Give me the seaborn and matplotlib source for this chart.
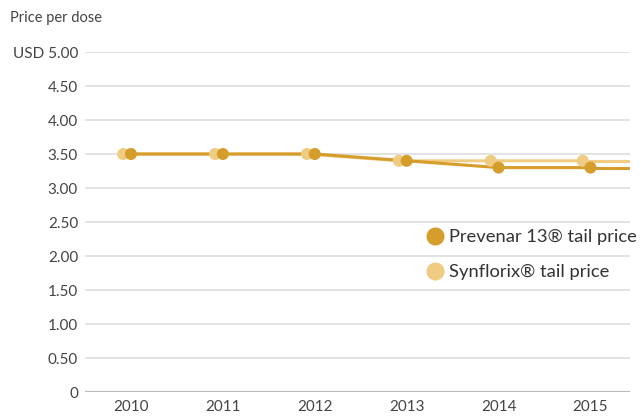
import numpy as np
import pandas as pd
import seaborn as sns
import matplotlib.pyplot as plt
from matplotlib.lines import Line2D

years = [2010, 2011, 2012, 2013, 2014, 2015]
prevenar = [3.50, 3.50, 3.50, 3.40, 3.30, 3.30]
synflorix = [3.50, 3.50, 3.50, 3.40, 3.40, 3.40]
yticks = [0, 0.5, 1.0, 1.5, 2.0, 2.5, 3.0, 3.5, 4.0, 4.5, 5.0]
ytick_labels = ["0", "0.50", "1.00", "1.50", "2.00", "2.50", "3.00", "3.50",
                "4.00", "4.50", "USD 5.00"]

c_prev = "#D59E2C"
c_syn = "#F0CC82"

sns.set_theme(style="white")
plt.rcParams['font.family'] = ['Lato', 'DejaVu Sans']

df = pd.DataFrame({"year": years, "Prevenar": prevenar, "Synflorix": synflorix})
df["year_syn"] = df["year"] - 0.085

fig = plt.figure(figsize=(6.41, 4.16), dpi=100)
ax = fig.add_axes([85 / 641, 1 - 392 / 416, 545 / 641, 340 / 416])

xmin, xmax = 2009.5, 2015.43
for y in yticks:
    ax.axhline(y, color="#BBBBBB" if y == 0 else "#E3E3E3", lw=1.6 if y == 0 else 1.4, zorder=0)

# lines (extended to the right edge at the last value)
sns.lineplot(data=df, x="year_syn", y="Synflorix", color=c_syn, lw=2.2, ax=ax, zorder=2)
ax.plot([df["year_syn"].iloc[-1], xmax], [synflorix[-1]] * 2, color=c_syn, lw=2.2, zorder=2)
sns.lineplot(data=df, x="year", y="Prevenar", color=c_prev, lw=2.2, ax=ax, zorder=3)
ax.plot([years[-1], xmax], [prevenar[-1]] * 2, color=c_prev, lw=2.2, zorder=3)

sns.scatterplot(data=df, x="year_syn", y="Synflorix", color=c_syn, s=75,
                edgecolor="none", ax=ax, zorder=4)
sns.scatterplot(data=df, x="year", y="Prevenar", color=c_prev, s=75,
                edgecolor="none", ax=ax, zorder=5)

ax.set_xlim(xmin, xmax)
ax.set_ylim(0, 5.0)
ax.set_yticks(yticks)
ax.set_yticklabels(ytick_labels)
ax.set_xticks(years)
ax.set_xticklabels([str(y) for y in years])
ax.tick_params(axis="both", length=0, labelsize=11, labelcolor="#444444")
ax.tick_params(axis="y", pad=5)
ax.tick_params(axis="x", pad=6)
ax.set_xlabel("")
ax.set_ylabel("")
for s in ax.spines.values():
    s.set_visible(False)

fig.text(10 / 641, 1 - 18 / 416, "Price per dose", fontsize=10.5, color="#444444",
         va="center", ha="left")

handles = [Line2D([], [], marker="o", ls="none", color=c_prev, markersize=12),
           Line2D([], [], marker="o", ls="none", color=c_syn, markersize=12)]
fig.legend(handles, ["Prevenar 13® tail price", "Synflorix® tail price"],
           loc="upper left", bbox_to_anchor=(420 / 641, 1 - 229 / 416),
           frameon=False, fontsize=13.2, handletextpad=0.0, labelspacing=1.05,
           handlelength=1.6, labelcolor="#333333", borderaxespad=0, borderpad=0)

fig.savefig("out.png", dpi=100)
